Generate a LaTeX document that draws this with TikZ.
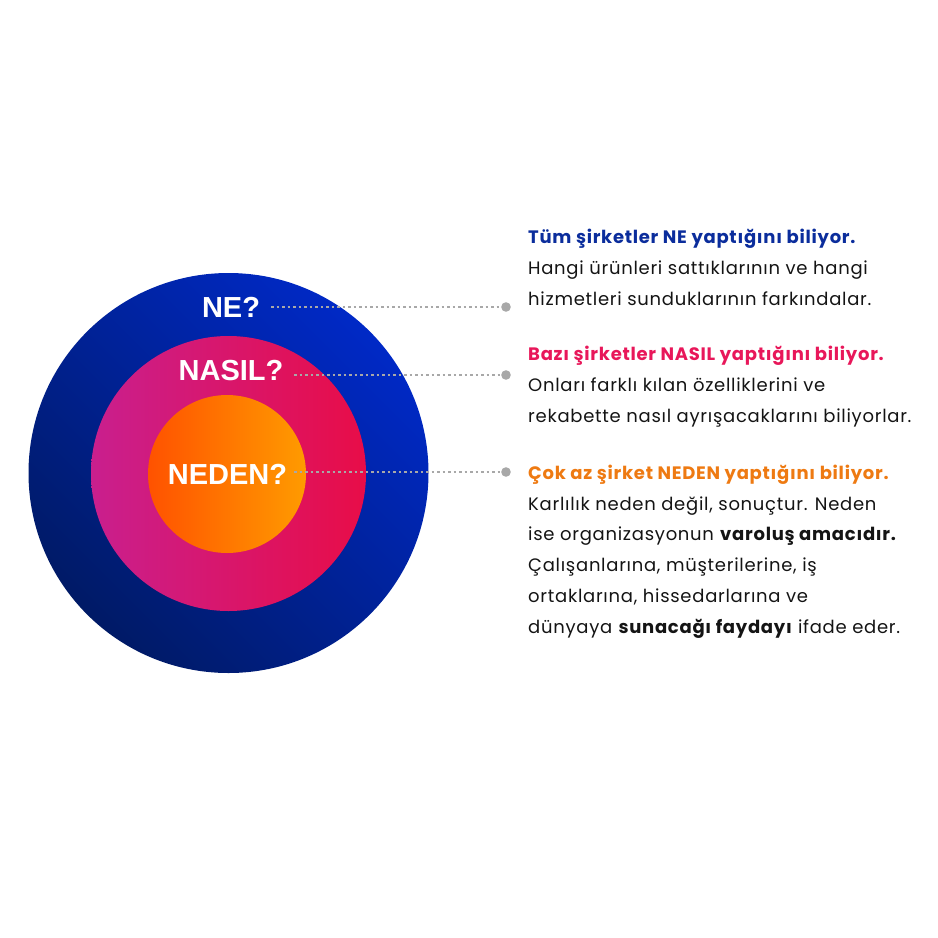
\documentclass[tikz,border=0pt]{standalone}
\usepackage{fontspec}
\setmainfont{Poppins}[LetterSpace=4]
\newfontfamily\circfont{Liberation Sans}
\usetikzlibrary{positioning}
\definecolor{outerlight}{HTML}{0029C6}
\definecolor{outerdark}{HTML}{001A66}
\definecolor{midleft}{HTML}{C91F8E}
\definecolor{midright}{HTML}{E80D48}
\definecolor{innleft}{HTML}{FF5200}
\definecolor{innright}{HTML}{FF9B00}
\definecolor{headne}{HTML}{0B2D9C}
\definecolor{headnasil}{HTML}{E8175A}
\definecolor{headneden}{HTML}{EE7A12}
\definecolor{dotgray}{HTML}{A8A8A8}
\definecolor{bodyblack}{HTML}{141414}
\begin{document}
\begin{tikzpicture}[x=1pt, y=-1pt, line cap=round,
    circlabel/.style={font=\circfont\bfseries\fontsize{29}{29}\selectfont, text=white, inner sep=0pt, anchor=base},
    dotline/.style={dotgray, line width=2.6pt, line cap=butt, dash pattern=on 2.6pt off 2.9pt},
    para/.style={font=\fontsize{18}{30.7}\selectfont, text=bodyblack, align=left, inner sep=0pt, anchor=base west}]
    \useasboundingbox (0,0) rectangle (938,938);
    % halkalar
    \shade[top color=outerlight, bottom color=outerdark, shading angle=-45] (228.5,473) circle (200);
    \shade[left color=midleft, right color=midright] (228.5,473.5) circle (137.5);
    \shade[left color=innleft, right color=innright] (227,474) circle (79);
    \node[circlabel] (ne) at (231,317.3) {NE?};
    \node[circlabel] (nasil) at (231,380) {NASIL?};
    \node[circlabel] (neden) at (227.5,484) {NEDEN?};
    % noktalı çizgiler
    \coordinate (ne-s) at (271,307);     \coordinate (ne-d) at (506,307);
    \coordinate (nasil-s) at (294,375);  \coordinate (nasil-d) at (506,375);
    \coordinate (neden-s) at (294,472);  \coordinate (neden-d) at (506,472);
    \foreach \n in {ne,nasil,neden}{
        \draw[dotline] (\n-s) -- (\n-d);
        \fill[dotgray] (\n-d) circle (4.8);
    }
    % metinler (base = son satırın tabanı)
    \node[para] (t1) at (528,305) {{\bfseries\color{headne}Tüm şirketler NE yaptığını biliyor.}\\
        Hangi ürünleri sattıklarının ve hangi\\
        hizmetleri sunduklarının farkındalar.};
    \node[para] (t2) at (528,422) {{\bfseries\color{headnasil}Bazı şirketler NASIL yaptığını biliyor.}\\
        Onları farklı kılan özelliklerini ve\\
        rekabette nasıl ayrışacaklarını biliyorlar.};
    \node[para] (t3) at (528,633) {{\bfseries\color{headneden}Çok az şirket NEDEN yaptığını biliyor.}\\
        Karlılık neden değil, sonuçtur. Neden\\
        ise organizasyonun \textbf{varoluş amacıdır.}\\
        Çalışanlarına, müşterilerine, iş\\
        ortaklarına, hissedarlarına ve\\
        dünyaya \textbf{sunacağı faydayı} ifade eder.};
\end{tikzpicture}
\end{document}
